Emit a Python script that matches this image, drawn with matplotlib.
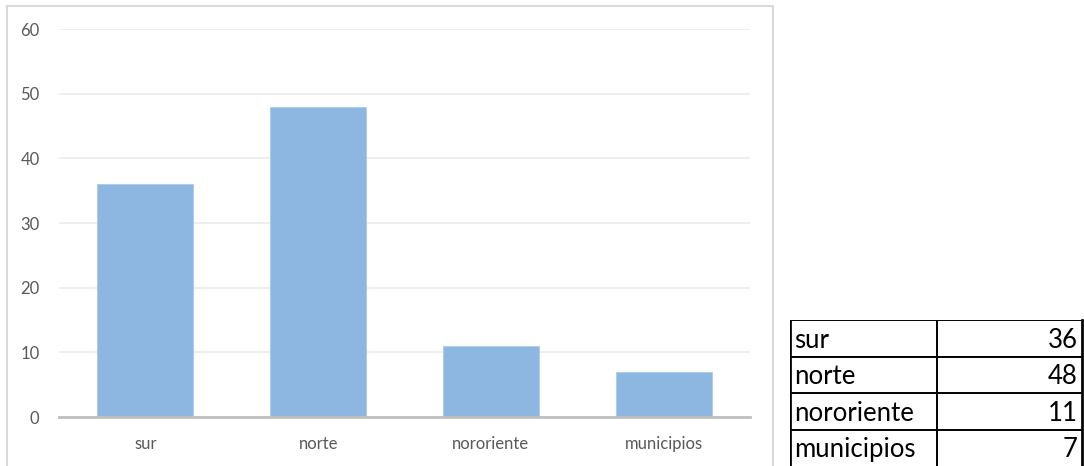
import matplotlib.pyplot as plt
from matplotlib.patches import Rectangle

# data
zonas = ["sur", "norte", "nororiente", "municipios"]
valores = [36, 48, 11, 7]
yticks = [0, 10, 20, 30, 40, 50, 60]

W, H = 1084, 466
fig = plt.figure(figsize=(W / 100, H / 100), dpi=100)
plt.rcParams['font.family'] = ['Lato', 'DejaVu Sans']

# chart frame (runs off the bottom edge)
fig.patches.append(Rectangle((7 / W, -0.05), (773 - 7) / W, 1.05 - 6 / H,
                             transform=fig.transFigure, fill=False,
                             edgecolor='#D9D9D9', lw=1.5))

# ---- bar chart ----
ax = fig.add_axes([59 / W, 1 - 417 / H, (750 - 59) / W, (417 - 29) / H])
x = range(len(zonas))
ax.bar(x, valores, width=0.556, color='#8DB7E1', edgecolor='#A9CBEA', lw=0.6, zorder=2)
ax.set_xlim(-0.5, len(zonas) - 0.5)
ax.set_ylim(0, 60)
ax.set_yticks(yticks)
ax.set_xticks(list(x))
ax.set_xticklabels(zonas)
ax.grid(axis='y', color='#EBEBEB', lw=1.2, zorder=0)
for s in ['top', 'right', 'left']:
    ax.spines[s].set_visible(False)
ax.spines['bottom'].set_color('#BFBFBF')
ax.spines['bottom'].set_linewidth(2)
ax.spines['bottom'].set_zorder(3)
ax.tick_params(axis='both', length=0, labelsize=12, labelcolor='#595959')
ax.tick_params(axis='y', pad=14)
ax.tick_params(axis='x', pad=14)

# ---- side table ----
tx0, tx1, ty0 = 790, 1082, 320
tab = fig.add_axes([tx0 / W, 0, (tx1 - tx0) / W, (H - ty0) / H])
tab.set_xlim(0, 1)
tab.set_ylim(len(zonas), 0)
tab.axis('off')
lw = 1.4
for i in range(len(zonas)):
    tab.axhline(i, color='black', lw=lw)
tab.axvline(0, color='black', lw=lw * 1.4)
tab.axvline(0.505, color='black', lw=lw)
tab.axvline(1, color='black', lw=lw * 1.4, clip_on=False)
for i, (z, v) in enumerate(zip(zonas, valores)):
    tab.text(0.015, i + 0.76, z, fontsize=18.5, va='baseline', ha='left', color='black')
    tab.text(0.985, i + 0.76, str(v), fontsize=18.5, va='baseline', ha='right', color='black')

fig.savefig('out.png', dpi=100)
